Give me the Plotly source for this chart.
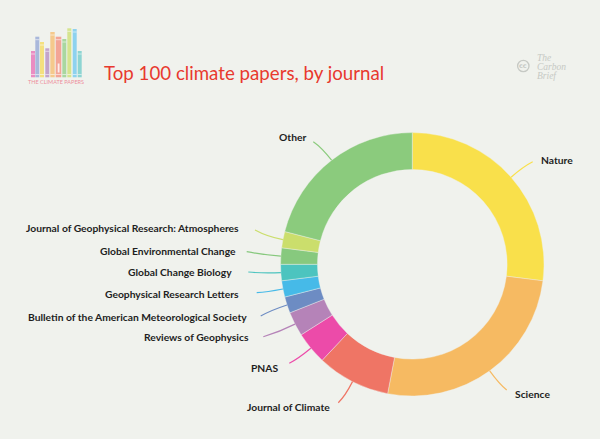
import math
import plotly.graph_objects as go

# ---------------- data ----------------
journals = [
    "Nature",
    "Science",
    "Journal of Climate",
    "PNAS",
    "Reviews of Geophysics",
    "Bulletin of the American Meteorological Society",
    "Geophysical Research Letters",
    "Global Change Biology",
    "Global Environmental Change",
    "Journal of Geophysical Research: Atmospheres",
    "Other",
]
papers = [27, 26, 9, 4, 3, 2, 2, 2, 2, 2, 21]
colors = [
    "#F9E04B", "#F6BA62", "#EF7565", "#EC4BA9", "#B583B8", "#6D8CC3",
    "#46BAE8", "#4CC4BF", "#87C97E", "#CBDE6C", "#8BCB7D",
]

# ---------------- layout constants (pixels) ----------------
W, H = 600, 439
BG = "#F0F2ED"
CX, CY, R = 412.3, 264.3, 131.7
HOLE = 0.72
CTRL_R = 148

# label anchor (x, y, side) and leader-line end points
label_pos = [
    (539, 160, "l"), (513, 394, "l"), (331.5, 407, "r"), (279.5, 368, "r"),
    (250.5, 337, "r"), (249, 317, "r"), (240.5, 294, "r"), (234, 272, "r"),
    (237.5, 251, "r"), (240.5, 228, "r"), (307.5, 137, "r"),
]
line_end = [
    (532.7, 161.7), (506.7, 390), (338.3, 402.7), (289.3, 363.3),
    (263.3, 336.7), (260.7, 316), (256.7, 292.7), (248.3, 272),
    (246.7, 251.7), (255, 230), (313.3, 141.7),
]


def px(x):
    return x / W


def py(y):
    return 1 - y / H


fig = go.Figure()
fig.add_trace(go.Pie(
    labels=journals, values=papers, sort=False, direction="clockwise",
    rotation=0, hole=HOLE, textinfo="none", showlegend=False,
    marker=dict(colors=colors, line=dict(color=BG, width=0.4)),
    domain=dict(x=[px(CX - R), px(CX + R)], y=[py(CY + R), py(CY - R)]),
    hovertemplate="%{label}: %{value}<extra></extra>",
))

shapes = []
annotations = []
total = sum(papers)
cum = 0
for i, (name, v) in enumerate(zip(journals, papers)):
    mid = (cum + v / 2) / total * 2 * math.pi
    cum += v
    sx, sy = CX + R * math.sin(mid), CY - R * math.cos(mid)
    qx, qy = CX + CTRL_R * math.sin(mid), CY - CTRL_R * math.cos(mid)
    ex, ey = line_end[i]
    shapes.append(dict(
        type="path", xref="paper", yref="paper",
        path=f"M {px(sx)} {py(sy)} Q {px(qx)} {py(qy)} {px(ex)} {py(ey)}",
        line=dict(color=colors[i], width=1.2),
    ))
    lx, ly, side = label_pos[i]
    annotations.append(dict(
        x=px(lx), y=py(ly), xref="paper", yref="paper", text=name,
        showarrow=False, xanchor="left" if side == "l" else "right",
        yanchor="middle",
        font=dict(family="Lato", size=10.3, color="#1E1E1E", weight=700),
    ))

# title
annotations.append(dict(
    x=px(102), y=py(73), xref="paper", yref="paper",
    text="Top 100 climate papers, by journal", showarrow=False,
    xanchor="left", yanchor="middle",
    font=dict(family="Lato", size=18.7, color="#E8392E"),
))

# Climate Papers logo (decorative book spines)
books = [
    (31, 35, 51, "#EA8DC2"), (35.3, 39.3, 36.7, "#A9B8DB"),
    (40, 44, 42, "#F4E07F"), (45.3, 49.3, 48.3, "#C3A4CB"),
    (50.3, 54.7, 32, "#F5C98C"), (55.7, 61.3, 36.7, "#F3A596"),
    (62.3, 66.3, 39, "#A9D7A0"), (67.3, 71.3, 28.3, "#D5E48E"),
    (72.7, 76.7, 29, "#8DD2EF"), (77.7, 81.7, 51, "#8DD5D2"),
]
for x0, x1, top, c in books:
    shapes.append(dict(type="rect", xref="paper", yref="paper",
                       x0=px(x0), x1=px(x1), y0=py(77.3), y1=py(top),
                       fillcolor=c, line=dict(width=0), layer="above"))
    for band in (top + 3, 74.5):
        shapes.append(dict(type="line", xref="paper", yref="paper",
                           x0=px(x0), x1=px(x1), y0=py(band), y1=py(band),
                           line=dict(color="rgba(255,255,255,0.7)", width=0.8),
                           layer="above"))
shapes.append(dict(type="rect", xref="paper", yref="paper",
                   x0=px(57.7), x1=px(59.5), y0=py(72.5), y1=py(63.5),
                   fillcolor="rgba(255,255,255,0.8)", line=dict(width=0),
                   layer="above"))
annotations.append(dict(
    x=px(56.3), y=py(82.5), xref="paper", yref="paper",
    text="THE CLIMATE PAPERS", showarrow=False, xanchor="center",
    yanchor="middle", font=dict(family="Lato", size=5.5, color="#EE8E9C"),
))

# Carbon Brief logo
shapes.append(dict(type="circle", xref="paper", yref="paper",
                   x0=px(517.6), x1=px(529), y0=py(71.7), y1=py(60.3),
                   line=dict(color="#C6C9C4", width=1.3)))
annotations.append(dict(
    x=px(523.3), y=py(66), xref="paper", yref="paper", text="cc",
    showarrow=False, xanchor="center", yanchor="middle",
    font=dict(family="DejaVu Sans", size=6.5, color="#C6C9C4", weight=700),
))
for t, yy in (("The", 57.5), ("Carbon", 66.5), ("Brief", 75.5)):
    annotations.append(dict(
        x=px(534.5), y=py(yy), xref="paper", yref="paper",
        text=f"<i>{t}</i>", showarrow=False, xanchor="left",
        yanchor="middle",
        font=dict(family="Liberation Serif", size=9.5, color="#C6C9C4"),
    ))

fig.update_layout(
    width=W, height=H, margin=dict(l=0, r=0, t=0, b=0),
    paper_bgcolor=BG, plot_bgcolor=BG,
    shapes=shapes, annotations=annotations,
)
fig.write_html(
    "out.html",
    config={"displayModeBar": False},
    post_script="document.body.style.margin='0';document.body.style.background='" + BG + "';",
)
